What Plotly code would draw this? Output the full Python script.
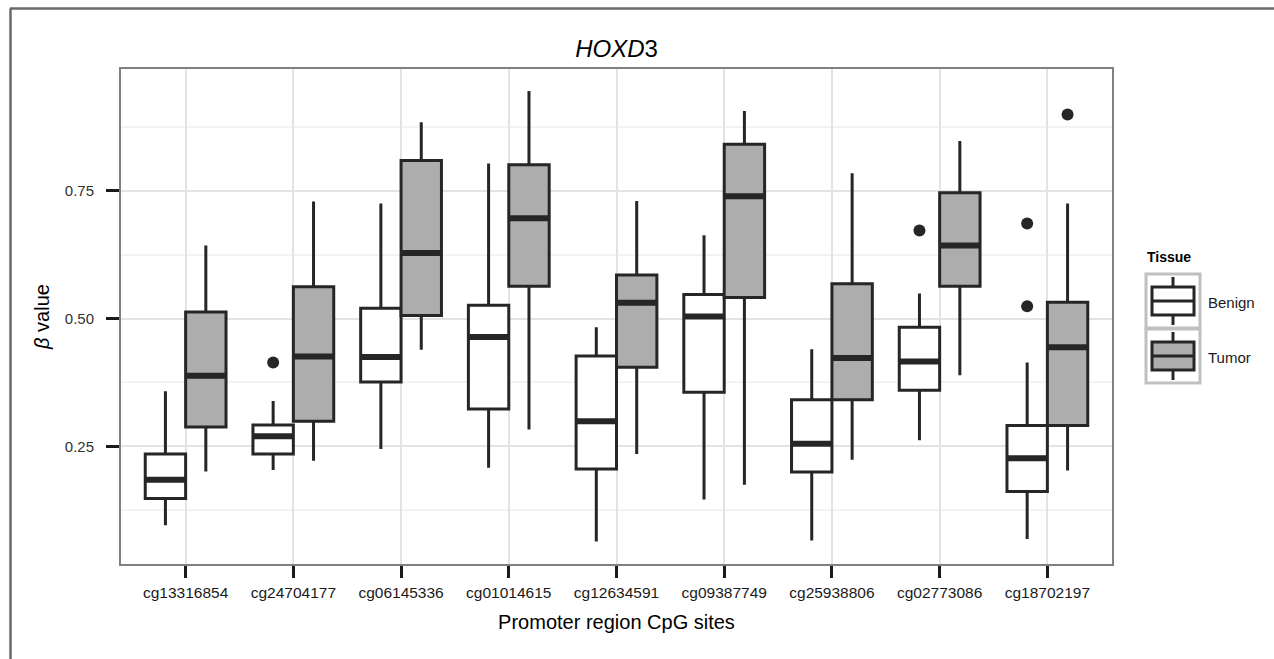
import plotly.graph_objects as go

# ---- data ----
categories = ["cg13316854", "cg24704177", "cg06145336", "cg01014615", "cg12634591",
              "cg09387749", "cg25938806", "cg02773086", "cg18702197"]

benign_lower = [0.096, 0.204, 0.245, 0.208, 0.064, 0.146, 0.066, 0.262, 0.069]
benign_q1 = [0.148, 0.235, 0.376, 0.323, 0.206, 0.356, 0.200, 0.360, 0.162]
benign_median = [0.185, 0.270, 0.425, 0.464, 0.299, 0.504, 0.255, 0.416, 0.227]
benign_q3 = [0.235, 0.292, 0.520, 0.526, 0.427, 0.547, 0.341, 0.483, 0.291]
benign_upper = [0.358, 0.339, 0.725, 0.803, 0.483, 0.663, 0.440, 0.549, 0.414]

tumor_lower = [0.201, 0.222, 0.439, 0.283, 0.235, 0.175, 0.224, 0.389, 0.203]
tumor_q1 = [0.288, 0.299, 0.506, 0.563, 0.405, 0.541, 0.341, 0.563, 0.291]
tumor_median = [0.388, 0.426, 0.628, 0.696, 0.531, 0.739, 0.423, 0.643, 0.444]
tumor_q3 = [0.513, 0.562, 0.809, 0.801, 0.585, 0.841, 0.568, 0.746, 0.532]
tumor_upper = [0.643, 0.729, 0.884, 0.945, 0.730, 0.906, 0.784, 0.847, 0.725]

benign_outlier_cat = ["cg24704177", "cg02773086", "cg18702197", "cg18702197"]
benign_outlier_val = [0.414, 0.672, 0.686, 0.524]
tumor_outlier_cat = ["cg18702197"]
tumor_outlier_val = [0.899]

y_tickvals = [0.25, 0.50, 0.75]
y_ticktext = ["0.25", "0.50", "0.75"]

# ---- style ----
FONT = "Liberation Sans, Arial, Helvetica, sans-serif"
LINE = "#262626"
TUMOR_FILL = "#adadad"
DODGE = 0.1875
BOXW = 0.375

idx = {c: i for i, c in enumerate(categories)}
xb = [i - DODGE for i in range(len(categories))]
xt = [i + DODGE for i in range(len(categories))]

fig = go.Figure()


def add_box(xs, lo, q1, med, q3, hi, fill):
    fig.add_trace(go.Box(
        x=xs, lowerfence=lo, q1=q1, median=med, q3=q3, upperfence=hi,
        width=BOXW, whiskerwidth=0, fillcolor=fill,
        line=dict(color=LINE, width=3), boxpoints=False,
        showlegend=False, hoverinfo="skip"))
    mx, my = [], []
    for x, m in zip(xs, med):
        mx += [x - BOXW / 2, x + BOXW / 2, None]
        my += [m, m, None]
    fig.add_trace(go.Scatter(x=mx, y=my, mode="lines",
                             line=dict(color=LINE, width=6),
                             showlegend=False, hoverinfo="skip"))


add_box(xb, benign_lower, benign_q1, benign_median, benign_q3, benign_upper, "white")
add_box(xt, tumor_lower, tumor_q1, tumor_median, tumor_q3, tumor_upper, TUMOR_FILL)

fig.add_trace(go.Scatter(
    x=[idx[c] - DODGE for c in benign_outlier_cat], y=benign_outlier_val,
    mode="markers", marker=dict(color=LINE, size=12), showlegend=False))
fig.add_trace(go.Scatter(
    x=[idx[c] + DODGE for c in tumor_outlier_cat], y=tumor_outlier_val,
    mode="markers", marker=dict(color=LINE, size=12), showlegend=False))

W, H = 1274, 659
L, R, T, B = 121, 1112, 69, 564


def px(x):
    return (x - L) / (R - L)


def py(y):
    return (B - y) / (B - T)


shapes = []
# outer frame (top & left)
shapes.append(dict(type="line", xref="paper", yref="paper", x0=px(10), x1=px(1274),
                   y0=py(8.5), y1=py(8.5), line=dict(color="#6a6a6a", width=2.5)))
shapes.append(dict(type="line", xref="paper", yref="paper", x0=px(10.5), x1=px(10.5),
                   y0=py(8.5), y1=py(659), line=dict(color="#6a6a6a", width=2.5)))

# legend keys
for (top, bot, fill) in [(274, 328, "white"), (329, 383, TUMOR_FILL)]:
    shapes.append(dict(type="rect", xref="paper", yref="paper",
                       x0=px(1146), x1=px(1200), y0=py(bot), y1=py(top),
                       line=dict(color="#c0c0c0", width=3), fillcolor="white"))
    cy = (top + bot) / 2
    cx = 1173
    shapes.append(dict(type="line", xref="paper", yref="paper", x0=px(cx), x1=px(cx),
                       y0=py(top + 3), y1=py(bot - 3), line=dict(color=LINE, width=3)))
    shapes.append(dict(type="rect", xref="paper", yref="paper",
                       x0=px(1152), x1=px(1194), y0=py(cy + 14), y1=py(cy - 14),
                       line=dict(color=LINE, width=3), fillcolor=fill))
    shapes.append(dict(type="line", xref="paper", yref="paper", x0=px(1152), x1=px(1194),
                       y0=py(cy), y1=py(cy), line=dict(color=LINE, width=3)))

annotations = [
    dict(text="<b>Tissue</b>", xref="paper", yref="paper", x=px(1145), y=py(257),
         xanchor="left", yanchor="middle", showarrow=False,
         font=dict(family=FONT, size=14, color="black")),
    dict(text="Benign", xref="paper", yref="paper", x=px(1206), y=py(302),
         xanchor="left", yanchor="middle", showarrow=False,
         font=dict(family=FONT, size=15, color="#1a1a1a")),
    dict(text="Tumor", xref="paper", yref="paper", x=px(1206), y=py(357),
         xanchor="left", yanchor="middle", showarrow=False,
         font=dict(family=FONT, size=15, color="#1a1a1a")),
]

fig.update_layout(
    width=W, height=H,
    margin=dict(l=L, r=W - R, t=T, b=H - B, pad=0),
    paper_bgcolor="white", plot_bgcolor="white",
    font=dict(family=FONT, color="#1a1a1a"),
    title=dict(text="<i>HOXD</i>3", x=0.5, xref="paper", y=1 - 48.5 / H,
               yanchor="middle", xanchor="center",
               font=dict(family=FONT, size=24, color="black")),
    shapes=shapes, annotations=annotations,
    showlegend=False,
)

fig.update_xaxes(
    range=[-0.6, len(categories) - 0.4],
    tickmode="array", tickvals=list(range(len(categories))), ticktext=categories,
    ticks="outside", ticklen=12, tickwidth=2.5, tickcolor="#1a1a1a",
    tickfont=dict(family=FONT, size=15.5, color="#1a1a1a"),
    ticklabelstandoff=1,
    showgrid=True, gridcolor="#e3e3e3", gridwidth=1.5,
    showline=True, linecolor="#808080", linewidth=2, mirror=True,
    zeroline=False,
    title=dict(text="Promoter region CpG sites", standoff=15,
               font=dict(family=FONT, size=20, color="black")),
)
fig.update_yaxes(
    range=[0.020, 0.988],
    tickmode="array", tickvals=y_tickvals, ticktext=y_ticktext,
    ticks="outside", ticklen=13, tickwidth=2.5, tickcolor="#1a1a1a",
    tickfont=dict(family=FONT, size=15, color="#333333"),
    ticklabelstandoff=9,
    showgrid=True, gridcolor="#e3e3e3", gridwidth=1.5,
    minor=dict(tickmode="array", tickvals=[0.125, 0.375, 0.625, 0.875],
               showgrid=True, gridcolor="#f3f3f3", gridwidth=1.5, ticks=""),
    showline=True, linecolor="#808080", linewidth=2, mirror=True,
    zeroline=False,
    title=dict(text="<i>β</i> value", standoff=10,
               font=dict(family=FONT, size=20, color="black")),
)

fig.write_html("out.html", config={"displayModeBar": False},
               post_script="document.body.style.margin='0';document.body.style.padding='0';")
